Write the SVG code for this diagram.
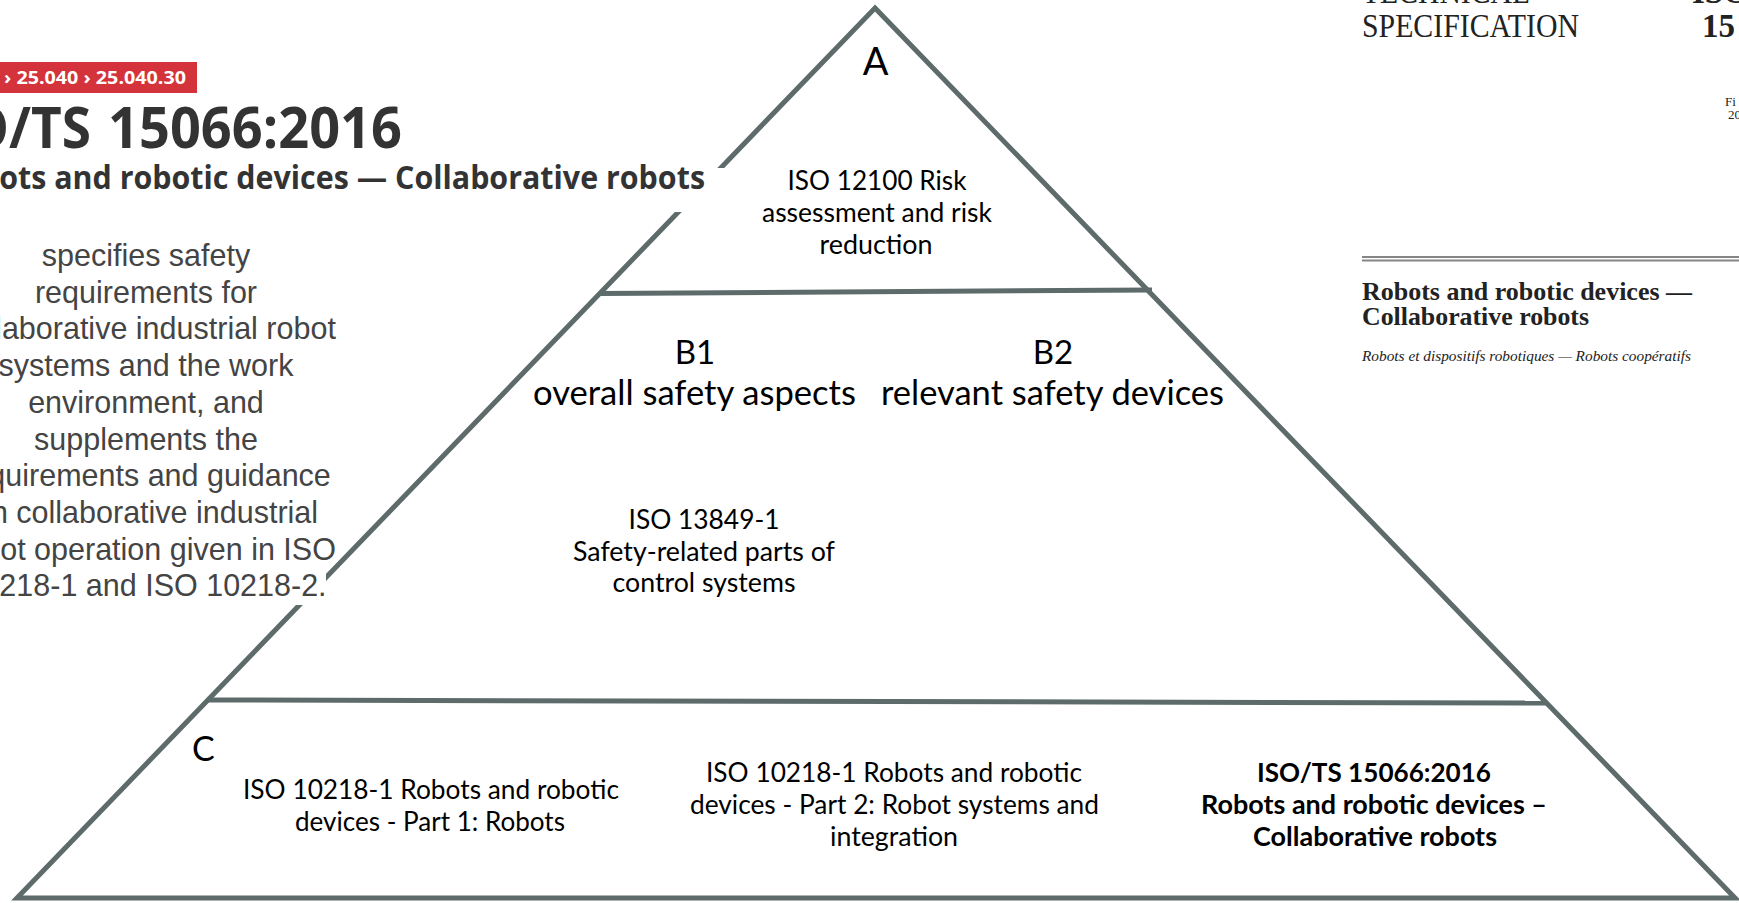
<svg xmlns="http://www.w3.org/2000/svg" width="1739" height="903" viewBox="0 0 1739 903">
<style>
.edge{fill:#ffffff;stroke:#5e6b6b;stroke-width:5;stroke-linejoin:miter}
.div{stroke:#5e6b6b;stroke-width:5;fill:none}
.cover{fill:#ffffff}
.pt{font-family:Lato,"Noto Sans",sans-serif;fill:#000;text-anchor:middle}
.pb{font-family:Lato,"Noto Sans",sans-serif;fill:#000;text-anchor:middle;font-weight:bold}
.para{font-family:"Liberation Sans",Arial,sans-serif;font-size:30.5px;fill:#444;text-anchor:middle}
.web{font-family:"Open Sans","Liberation Sans",sans-serif;font-weight:bold;fill:#333}
.doc{font-family:"Liberation Serif","DejaVu Serif",serif;fill:#222}
</style>
<rect width="1739" height="903" fill="#ffffff"/>

<g id="pyramid">
  <polygon class="edge" points="875,8 1735,898 17,898"/>
  <g id="dividers">
    <line class="div" x1="600" y1="293.5" x2="1152" y2="290"/>
    <line class="div" x1="207" y1="700" x2="1547" y2="703"/>
  </g>
</g>

<g id="web-page">
  <rect class="cover" x="0" y="168" width="728" height="44"/>
  <rect class="cover" x="0" y="228" width="326" height="377"/>
  <rect x="0" y="62" width="197" height="31" fill="#d5333b"/>
  <text x="4" y="84" font-family="'Open Sans','Liberation Sans',sans-serif" font-weight="bold" font-size="17.5" fill="#ffffff" textLength="182" lengthAdjust="spacingAndGlyphs">› 25.040 › 25.040.30</text>
  <text class="web" y="148" font-size="57"><tspan x="-80" textLength="171" lengthAdjust="spacingAndGlyphs">ISO/TS</tspan><tspan x="108" textLength="294" lengthAdjust="spacingAndGlyphs">15066:2016</tspan></text>
  <text class="web" x="-59" y="189" font-size="33" textLength="764" lengthAdjust="spacingAndGlyphs">Robots and robotic devices — Collaborative robots</text>
  <text class="para" x="146" y="266">specifies safety</text>
  <text class="para" x="146" y="302.7">requirements for</text>
  <text class="para" x="146" y="339.4">collaborative industrial robot</text>
  <text class="para" x="146" y="376.1">systems and the work</text>
  <text class="para" x="146" y="412.8">environment, and</text>
  <text class="para" x="146" y="449.5">supplements the</text>
  <text class="para" x="146" y="486.2">requirements and guidance</text>
  <text class="para" x="146" y="522.9">on collaborative industrial</text>
  <text class="para" x="146" y="559.6">robot operation given in ISO</text>
  <text class="para" x="146" y="596.3">10218-1 and ISO 10218-2.</text>
</g>

<g id="document-cover">
  <text class="doc" x="1362" y="3" font-size="33" textLength="168" lengthAdjust="spacingAndGlyphs">TECHNICAL</text>
  <text class="doc" x="1362" y="37" font-size="33" textLength="217" lengthAdjust="spacingAndGlyphs">SPECIFICATION</text>
  <text class="doc" x="1692" y="3" font-size="33" font-weight="bold">ISO</text>
  <text class="doc" x="1702" y="37" font-size="33" font-weight="bold">15</text>
  <text class="doc" x="1725" y="106" font-size="13">Fi</text>
  <text class="doc" x="1728" y="119" font-size="13">20</text>
  <line x1="1362" y1="257" x2="1739" y2="257" stroke="#858585" stroke-width="2"/>
  <line x1="1362" y1="260.5" x2="1739" y2="260.5" stroke="#858585" stroke-width="2.2"/>
  <text class="doc" x="1362" y="300" font-size="25" font-weight="bold" textLength="330" lengthAdjust="spacingAndGlyphs">Robots and robotic devices —</text>
  <text class="doc" x="1362" y="325" font-size="25" font-weight="bold" textLength="227" lengthAdjust="spacingAndGlyphs">Collaborative robots</text>
  <text class="doc" x="1362" y="361" font-size="14" font-style="italic" textLength="329" lengthAdjust="spacingAndGlyphs">Robots et dispositifs robotiques — Robots coopératifs</text>
</g>

<g id="level-A">
  <text class="pt" x="875.5" y="75" font-size="38">A</text>
  <text class="pt" x="877" y="190" font-size="26" textLength="179" lengthAdjust="spacingAndGlyphs">ISO 12100 Risk</text>
  <text class="pt" x="877" y="222" font-size="26" textLength="230" lengthAdjust="spacingAndGlyphs">assessment and risk</text>
  <text class="pt" x="876" y="253.5" font-size="26" textLength="113" lengthAdjust="spacingAndGlyphs">reduction</text>
</g>

<g id="level-B1">
  <text class="pt" x="695" y="364" font-size="33">B1</text>
  <text class="pt" x="694.5" y="405" font-size="34" textLength="323" lengthAdjust="spacingAndGlyphs">overall safety aspects</text>
  <text class="pt" x="704" y="529" font-size="26" textLength="151" lengthAdjust="spacingAndGlyphs">ISO 13849-1</text>
  <text class="pt" x="704" y="560.5" font-size="26" textLength="262" lengthAdjust="spacingAndGlyphs">Safety-related parts of</text>
  <text class="pt" x="704" y="592" font-size="26" textLength="183" lengthAdjust="spacingAndGlyphs">control systems</text>
</g>

<g id="level-B2">
  <text class="pt" x="1053" y="364" font-size="33">B2</text>
  <text class="pt" x="1052.5" y="405" font-size="34" textLength="343" lengthAdjust="spacingAndGlyphs">relevant safety devices</text>
</g>

<g id="level-C">
  <text x="192" y="761" font-family="Lato,'Noto Sans',sans-serif" font-size="34" fill="#000">C</text>
  <text class="pt" x="431" y="799" font-size="26" textLength="376" lengthAdjust="spacingAndGlyphs">ISO 10218-1 Robots and robotic</text>
  <text class="pt" x="430" y="831" font-size="26" textLength="270" lengthAdjust="spacingAndGlyphs">devices - Part 1: Robots</text>
  <text class="pt" x="894" y="782" font-size="26" textLength="376" lengthAdjust="spacingAndGlyphs">ISO 10218-1 Robots and robotic</text>
  <text class="pt" x="894.5" y="814" font-size="26" textLength="409" lengthAdjust="spacingAndGlyphs">devices - Part 2: Robot systems and</text>
  <text class="pt" x="894" y="846" font-size="26" textLength="128" lengthAdjust="spacingAndGlyphs">integration</text>
  <text class="pb" x="1374" y="782" font-size="26" textLength="234" lengthAdjust="spacingAndGlyphs">ISO/TS 15066:2016</text>
  <text class="pb" x="1374" y="814" font-size="26" textLength="346" lengthAdjust="spacingAndGlyphs">Robots and robotic devices –</text>
  <text class="pb" x="1375" y="846" font-size="26" textLength="244" lengthAdjust="spacingAndGlyphs">Collaborative robots</text>
</g>
</svg>
